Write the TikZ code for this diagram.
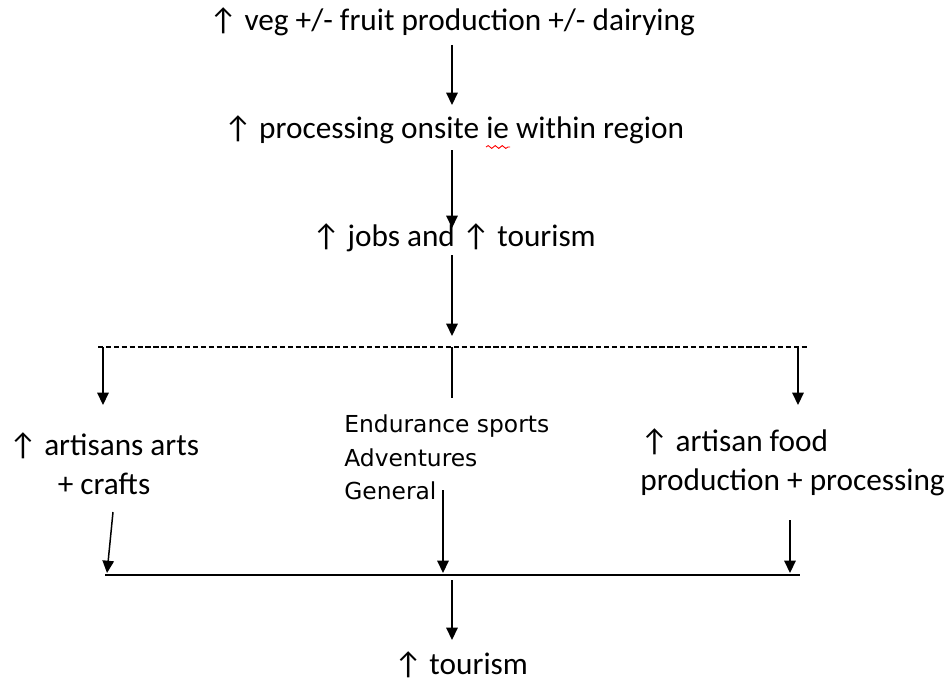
\documentclass[tikz,border=0pt]{standalone}
\usepackage{fontspec}
\setmainfont{Carlito}
\newfontfamily\listfont{DejaVu Sans}
\usetikzlibrary{arrows.meta,decorations.pathmorphing}
\newcommand{\up}{↑}

\tikzset{
  txt/.style={font=\fontsize{17.8}{22}\selectfont, inner sep=0pt},
  arr/.style={-{Triangle[length=7pt,width=6.5pt]}, line width=0.85pt},
  bar/.style={line width=0.85pt}
}

\begin{document}
\begin{tikzpicture}[x=0.02cm, y=-0.02cm]
    \useasboundingbox (0,0) rectangle (950,686);

    % chain down the middle
    \node[txt] (veg) at (452,22) {\up{} veg +/- fruit production +/- dairying};
    \node[txt] (proc) at (454,130) {\up{} processing onsite ie within region};
    \node[txt] (jobs) at (454,238) {\up{} jobs and \up{} tourism};
    \draw[red, line width=0.5pt, decorate, decoration={snake, segment length=4pt, amplitude=0.8pt}] (486,147) -- (510,147);

    \coordinate (a1) at (452,45);
    \coordinate (a2) at (452,150);
    \coordinate (a3) at (452,255);
    \draw[arr] (a1) -- (452,105);
    \draw[arr] (a2) -- (452,228);
    \draw[arr] (a3) -- (452,336);

    % split
    \coordinate (dl) at (98,347);
    \coordinate (dm) at (452,347);
    \coordinate (dr) at (808,347);
    \draw[dashed, line width=0.6pt, dash pattern=on 3pt off 1.5pt] (dl) -- (dr);

    \node[txt, align=center] (arts) at (104,464) {\up{} artisans arts\\+ crafts};
    \node[anchor=north west, inner sep=0pt, align=left, font=\listfont\fontsize{13.3}{19.3}\selectfont] (sport) at (344,414) {Endurance sports\\Adventures\\General};
    \node[txt, anchor=west, align=left] (food) at (640,462) {\up{} artisan food\\production + processing};

    \draw[arr] (103,347) -- (103,405);
    \draw[bar] (dm) -- (452,398);
    \draw[arr] (798,347) -- (798,405);

    % join
    \coordinate (sl) at (105,575);
    \coordinate (sm) at (452,575);
    \coordinate (sr) at (800,575);
    \draw[bar] (sl) -- (sr);
    \draw[arr] (113,512) -- (107,573);
    \draw[arr] (443,490) -- (443,573);
    \draw[arr] (790,520) -- (790,573);

    \node[txt] (tour) at (461,665) {\up{} tourism};
    \draw[arr] (452,580) -- (452,640);
\end{tikzpicture}
\end{document}
